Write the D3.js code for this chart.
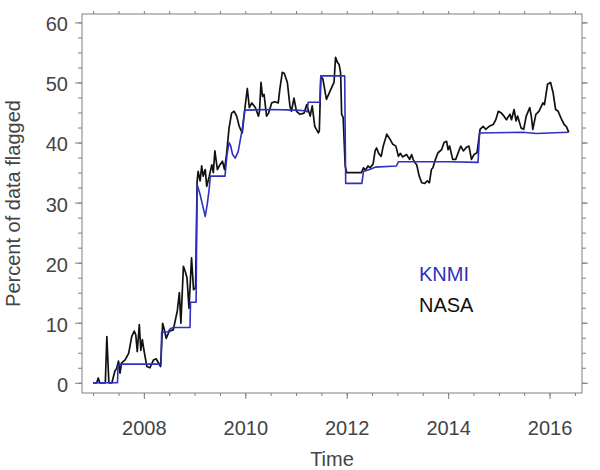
<!DOCTYPE html>
<html>
<head>
<meta charset="utf-8">
<script src="https://cdn.jsdelivr.net/npm/d3@7"></script>
<style>
  body { margin: 0; background: #fff; }
  text { font-family: "Liberation Sans", Arial, Helvetica, sans-serif; }
</style>
</head>
<body>
<script>
// KNMI flagged percentage, [decimal year, percent]
var knmi = [
  [2007.00, 0], [2007.48, 0], [2007.49, 2.8], [2007.52, 3.1], [2008.34, 3.1],
  [2008.35, 8.4], [2008.48, 8.5], [2008.52, 9.0], [2008.58, 9.2], [2008.91, 9.2],
  [2008.92, 13.4], [2009.03, 13.4], [2009.05, 33.0], [2009.11, 31.3], [2009.16, 29.5],
  [2009.21, 27.7], [2009.25, 29.7], [2009.29, 32.4], [2009.31, 34.4], [2009.60, 34.4],
  [2009.64, 38.0], [2009.68, 40.0], [2009.71, 39.5], [2009.75, 38.0], [2009.80, 37.4],
  [2009.86, 38.5], [2009.92, 41.3], [2009.94, 42.2], [2009.99, 45.4], [2010.50, 45.5],
  [2011.00, 45.4], [2011.18, 45.3], [2011.22, 45.1], [2011.24, 46.7], [2011.47, 46.7],
  [2011.49, 51.1], [2011.96, 51.1], [2011.98, 33.2], [2012.30, 33.2], [2012.33, 35.2],
  [2012.45, 35.5], [2012.56, 35.9], [2012.98, 36.1], [2013.02, 36.8], [2014.00, 36.8],
  [2014.59, 36.7], [2014.62, 41.6], [2015.47, 41.7], [2015.74, 41.5], [2016.37, 41.7]
];

// NASA flagged percentage, [decimal year, percent]
var nasa = [
  [2007.00, 0], [2007.07, 0], [2007.10, 0.8], [2007.13, 0], [2007.24, 0],
  [2007.27, 7.7], [2007.31, 0], [2007.37, 0], [2007.43, 2.0], [2007.46, 2.3],
  [2007.50, 3.6], [2007.53, 1.6], [2007.56, 3.3], [2007.63, 3.8], [2007.70, 4.9],
  [2007.76, 7.7], [2007.81, 8.6], [2007.84, 8.0], [2007.87, 5.2], [2007.91, 9.7],
  [2007.94, 5.4], [2007.97, 7.2], [2008.00, 5.5], [2008.06, 2.7], [2008.12, 2.5],
  [2008.19, 3.8], [2008.24, 4.0], [2008.29, 3.3], [2008.33, 2.7], [2008.37, 9.9],
  [2008.40, 9.0], [2008.44, 7.4], [2008.50, 8.6], [2008.58, 8.8], [2008.66, 12.0],
  [2008.70, 15.0], [2008.73, 9.9], [2008.78, 19.4], [2008.82, 18.4], [2008.85, 17.5],
  [2008.89, 12.4], [2008.94, 20.8], [2008.98, 15.5], [2009.02, 15.8], [2009.05, 33.5],
  [2009.07, 35.2], [2009.11, 33.6], [2009.14, 36.1], [2009.17, 34.4], [2009.21, 35.5],
  [2009.24, 32.7], [2009.29, 34.4], [2009.34, 36.3], [2009.37, 35.0], [2009.40, 38.6],
  [2009.45, 35.5], [2009.50, 36.3], [2009.55, 36.9], [2009.59, 35.5], [2009.63, 38.0],
  [2009.68, 42.4], [2009.73, 44.9], [2009.78, 45.2], [2009.83, 44.4], [2009.88, 42.7],
  [2009.94, 41.6], [2009.99, 45.5], [2010.04, 49.0], [2010.08, 45.8], [2010.13, 46.6],
  [2010.20, 45.8], [2010.26, 44.4], [2010.28, 45.2], [2010.31, 50.0], [2010.34, 47.7],
  [2010.37, 48.0], [2010.42, 44.4], [2010.46, 44.9], [2010.52, 46.6], [2010.58, 46.8],
  [2010.65, 46.6], [2010.68, 48.8], [2010.73, 51.7], [2010.77, 51.5], [2010.83, 50.0],
  [2010.88, 46.1], [2010.91, 45.2], [2010.96, 47.4], [2011.01, 45.2], [2011.08, 44.7],
  [2011.16, 44.9], [2011.21, 46.3], [2011.28, 44.4], [2011.32, 46.1], [2011.37, 42.7],
  [2011.44, 41.6], [2011.46, 41.9], [2011.49, 51.0], [2011.53, 50.6], [2011.60, 47.2],
  [2011.70, 49.1], [2011.75, 50.0], [2011.78, 54.2], [2011.82, 53.3], [2011.85, 53.0],
  [2011.88, 51.6], [2011.90, 44.7], [2011.93, 44.2], [2011.97, 36.1], [2012.00, 35.0],
  [2012.29, 35.0], [2012.33, 35.8], [2012.37, 35.4], [2012.42, 36.1], [2012.46, 35.8],
  [2012.52, 36.4], [2012.56, 38.6], [2012.59, 39.1], [2012.63, 38.2], [2012.68, 37.7],
  [2012.72, 39.4], [2012.79, 41.4], [2012.85, 40.6], [2012.91, 39.7], [2012.97, 39.4],
  [2013.02, 37.7], [2013.06, 38.2], [2013.10, 37.6], [2013.18, 38.0], [2013.24, 37.2],
  [2013.28, 38.0], [2013.31, 37.2], [2013.35, 36.6], [2013.38, 36.3], [2013.43, 34.4],
  [2013.48, 33.3], [2013.54, 33.2], [2013.59, 33.6], [2013.63, 33.3], [2013.67, 35.5],
  [2013.70, 35.8], [2013.75, 37.2], [2013.80, 38.3], [2013.87, 38.8], [2013.92, 40.0],
  [2013.97, 40.2], [2014.00, 38.8], [2014.03, 39.4], [2014.09, 37.2], [2014.15, 37.2],
  [2014.22, 38.8], [2014.25, 39.4], [2014.30, 38.6], [2014.36, 39.2], [2014.41, 39.4],
  [2014.46, 37.2], [2014.51, 38.0], [2014.57, 38.3], [2014.63, 42.2], [2014.69, 42.7],
  [2014.74, 42.2], [2014.81, 42.7], [2014.89, 43.0], [2014.94, 43.8], [2014.99, 45.2],
  [2015.05, 44.9], [2015.10, 44.4], [2015.15, 43.8], [2015.22, 44.7], [2015.25, 43.8],
  [2015.30, 45.5], [2015.34, 43.6], [2015.37, 44.4], [2015.44, 42.4], [2015.49, 42.2],
  [2015.54, 44.4], [2015.61, 45.8], [2015.64, 44.4], [2015.67, 42.2], [2015.73, 44.7],
  [2015.79, 45.2], [2015.87, 46.6], [2015.90, 46.3], [2015.96, 49.7], [2016.02, 50.0],
  [2016.07, 48.3], [2016.12, 45.5], [2016.17, 45.2], [2016.24, 43.8], [2016.29, 43.0],
  [2016.33, 42.7], [2016.38, 41.7]
];

var xMajor = [2008, 2010, 2012, 2014, 2016];
var xMinor = d3.range(2007, 2016.6, 0.5);
var yMajor = [0, 10, 20, 30, 40, 50, 60];
var yMinor = d3.range(0, 61, 2.5);

var legendNames = ["KNMI", "NASA"];
var colors = { KNMI: "#3030c0", NASA: "#111111" };

var W = 600, H = 470;
var plotLeft = 82, plotRight = 582, plotTop = 14, plotBottom = 393;

var svg = d3.select("body").append("svg")
  .attr("width", W).attr("height", H);

var x = d3.scaleLinear().domain([2006.78, 2016.64]).range([plotLeft, plotRight]);
var y = d3.scaleLinear().domain([-1.7, 61.4]).range([plotBottom, plotTop]);

var axisColor = "#808080";
var labelColor = "#444";

function styleAxis(g) {
  g.select(".domain").remove();
  g.selectAll(".tick line").attr("stroke", axisColor).attr("stroke-width", 1);
  g.selectAll(".tick text")
    .attr("fill", labelColor)
    .style("font-size", "20px")
    .style("font-family", "'Liberation Sans', Arial, sans-serif");
}

// minor ticks on all four sides
svg.append("g").attr("transform", "translate(0," + plotBottom + ")")
  .call(d3.axisBottom(x).tickValues(xMinor).tickSize(3).tickFormat(""))
  .call(styleAxis);
svg.append("g").attr("transform", "translate(0," + plotTop + ")")
  .call(d3.axisTop(x).tickValues(xMinor).tickSize(3).tickFormat(""))
  .call(styleAxis);
svg.append("g").attr("transform", "translate(" + plotLeft + ",0)")
  .call(d3.axisLeft(y).tickValues(yMinor).tickSize(4).tickFormat(""))
  .call(styleAxis);
svg.append("g").attr("transform", "translate(" + plotRight + ",0)")
  .call(d3.axisRight(y).tickValues(yMinor).tickSize(4).tickFormat(""))
  .call(styleAxis);

// major ticks with labels
svg.append("g").attr("transform", "translate(0," + plotBottom + ")")
  .call(d3.axisBottom(x).tickValues(xMajor).tickSize(6).tickPadding(22).tickFormat(d3.format("d")))
  .call(styleAxis);
svg.append("g").attr("transform", "translate(" + plotLeft + ",0)")
  .call(d3.axisLeft(y).tickValues(yMajor).tickSize(7).tickPadding(7).tickFormat(d3.format("d")))
  .call(styleAxis)
  .selectAll(".tick text").attr("dy", "0.42em");
svg.append("g").attr("transform", "translate(" + plotRight + ",0)")
  .call(d3.axisRight(y).tickValues(yMajor).tickSize(6).tickFormat(""))
  .call(styleAxis);

// frame
svg.append("rect")
  .attr("x", plotLeft).attr("y", plotTop)
  .attr("width", plotRight - plotLeft).attr("height", plotBottom - plotTop)
  .attr("fill", "none").attr("stroke", axisColor).attr("stroke-width", 1);

var line = d3.line()
  .x(function (d) { return x(d[0]); })
  .y(function (d) { return y(d[1]); });

svg.append("path").datum(nasa)
  .attr("d", line)
  .attr("fill", "none")
  .attr("stroke", colors.NASA)
  .attr("stroke-width", 1.7)
  .attr("stroke-linejoin", "round");

svg.append("path").datum(knmi)
  .attr("d", line)
  .attr("fill", "none")
  .attr("stroke", colors.KNMI)
  .attr("stroke-width", 1.6)
  .attr("stroke-linejoin", "round");

// legend
svg.selectAll(".legend")
  .data(legendNames)
  .enter().append("text")
  .attr("class", "legend")
  .attr("x", 419)
  .attr("y", function (d, i) { return 281 + i * 31; })
  .attr("fill", function (d) { return colors[d]; })
  .style("font-size", "20px")
  .text(function (d) { return d; });

// axis titles
svg.append("text")
  .attr("x", (plotLeft + plotRight) / 2)
  .attr("y", 466)
  .attr("text-anchor", "middle")
  .attr("fill", labelColor)
  .style("font-size", "20px")
  .text("Time");

svg.append("text")
  .attr("transform", "translate(20," + (plotTop + plotBottom) / 2 + ") rotate(-90)")
  .attr("text-anchor", "middle")
  .attr("fill", labelColor)
  .style("font-size", "20px")
  .text("Percent of data flagged");
</script>
</body>
</html>
